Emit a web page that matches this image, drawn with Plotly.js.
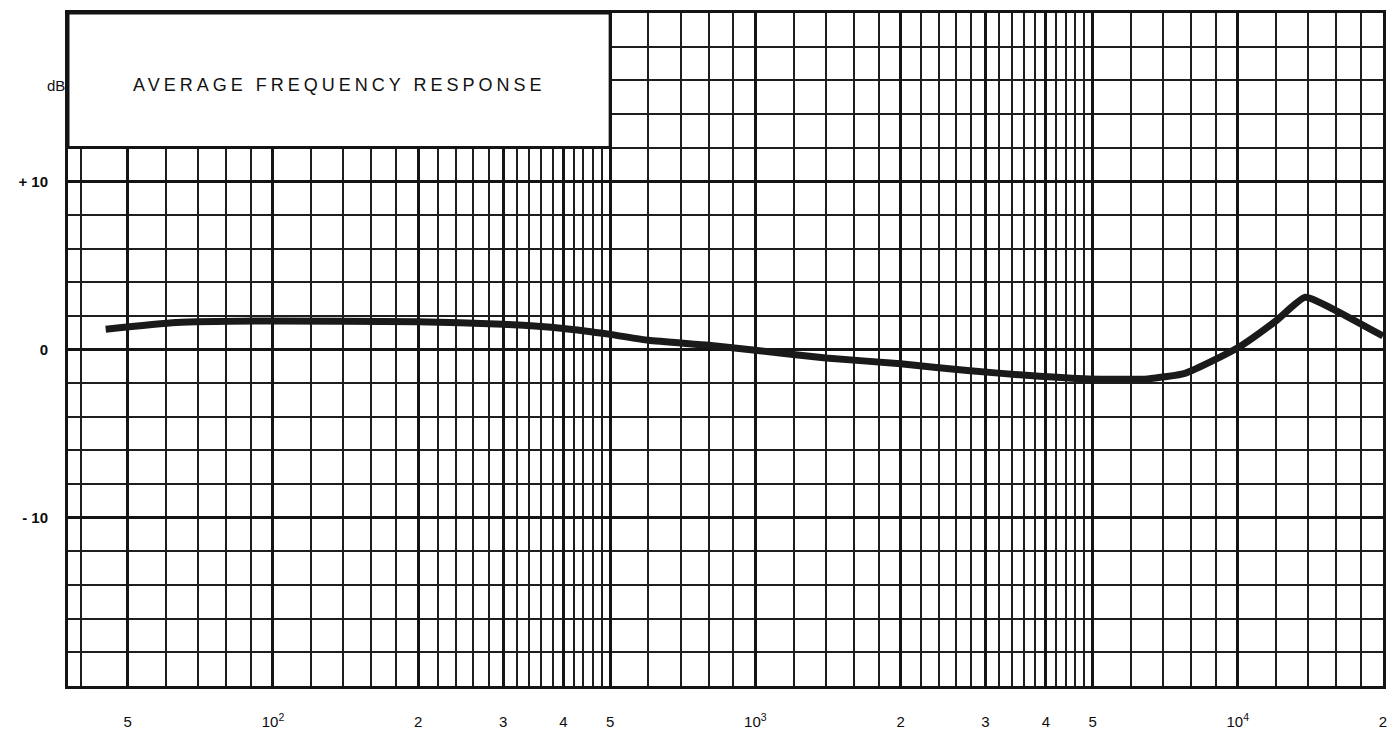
<!DOCTYPE html>
<html>
<head>
<meta charset="utf-8">
<script src="https://cdn.plot.ly/plotly-3.0.1.min.js"></script>
<style>
  html, body { margin: 0; padding: 0; background: #ffffff; }
  #chart { width: 1394px; height: 734px; }
</style>
</head>
<body>
<div id="chart"></div>
<script>
// ---- data (frequency in Hz, level in dB) ----
const freqHz = [45, 63, 100, 200, 300, 400, 500, 600, 800, 1000, 1400, 2000, 2750, 3700, 4900, 6500, 7800, 10000, 12000, 13800, 16000, 20000];
const levelDb = [1.2, 1.6, 1.7, 1.65, 1.5, 1.25, 0.9, 0.55, 0.25, -0.05, -0.5, -0.85, -1.25, -1.55, -1.75, -1.75, -1.4, 0.1, 1.7, 3.1, 2.3, 0.8];

// ---- axis tick labels ----
const xTickVals = [50, 100, 200, 300, 400, 500, 1000, 2000, 3000, 4000, 5000, 10000, 20000];
const xTickText = ['5', '10<sup>2</sup>', '2', '3', '4', '5', '10<sup>3</sup>', '2', '3', '4', '5', '10<sup>4</sup>', '2'];
const xMinorVals = [40, 60, 70, 80, 90,
  120, 140, 160, 180, 220, 240, 260, 280, 320, 340, 360, 380, 420, 440, 460, 480,
  600, 700, 800, 900,
  1200, 1400, 1600, 1800, 2200, 2400, 2600, 2800, 3200, 3400, 3600, 3800, 4200, 4400, 4600, 4800,
  6000, 7000, 8000, 9000, 12000, 14000, 16000, 18000];
const yTickVals = [-10, 0, 10];
const yTickText = ['- 10', '0', '+ 10'];
const yMinorVals = [-18, -16, -14, -12, -8, -6, -4, -2, 2, 4, 6, 8, 12, 14, 16, 18];

const titleText = 'AVERAGE FREQUENCY RESPONSE';
const unitText = 'dB';

const xRangeLog = [1.5751, Math.log10(20000)];
const yRange = [-20, 20];
const boxRightHz = 500;
const boxBottomDb = 12;

const ink = '#141414';

// layout helpers (positions of the title box in paper fractions)
const boxX1 = (Math.log10(boxRightHz) - xRangeLog[0]) / (xRangeLog[1] - xRangeLog[0]);
const boxY0 = (boxBottomDb - yRange[0]) / (yRange[1] - yRange[0]);

const trace = {
  type: 'scatter',
  mode: 'lines',
  x: freqHz,
  y: levelDb,
  line: { color: '#1a1a1a', width: 7, shape: 'spline', smoothing: 0.5 },
  hoverinfo: 'x+y',
  showlegend: false
};

const layout = {
  width: 1394,
  height: 734,
  margin: { l: 68, r: 11, t: 13, b: 48, pad: 0 },
  paper_bgcolor: '#ffffff',
  plot_bgcolor: '#ffffff',
  font: { family: 'Liberation Sans, Arial, sans-serif', color: ink },
  showlegend: false,
  xaxis: {
    type: 'log',
    range: xRangeLog,
    tickmode: 'array',
    tickvals: xTickVals,
    ticktext: xTickText,
    ticks: '',
    ticklabelstandoff: 20,
    tickfont: { size: 15, color: '#0d0d0d' },
    showgrid: true,
    gridcolor: ink,
    gridwidth: 3,
    minor: { tickmode: 'array', tickvals: xMinorVals, showgrid: true, gridcolor: '#1e1e1e', gridwidth: 2, ticks: '' },
    showline: true,
    linecolor: ink,
    linewidth: 3,
    mirror: true,
    zeroline: false,
    fixedrange: true
  },
  yaxis: {
    range: yRange,
    tickmode: 'array',
    tickvals: yTickVals,
    ticktext: yTickText,
    ticks: '',
    ticklabelstandoff: 14,
    tickfont: { size: 15, color: '#0d0d0d', weight: 'bold' },
    showgrid: true,
    gridcolor: ink,
    gridwidth: 3,
    minor: { tickmode: 'array', tickvals: yMinorVals, showgrid: true, gridcolor: '#1e1e1e', gridwidth: 2, ticks: '' },
    showline: true,
    linecolor: ink,
    linewidth: 3,
    mirror: true,
    zeroline: false,
    fixedrange: true
  },
  shapes: [
    {
      type: 'rect', layer: 'above',
      xref: 'paper', yref: 'paper',
      x0: 0, x1: boxX1,
      y0: boxY0, y1: 1,
      fillcolor: '#ffffff',
      line: { color: ink, width: 3 }
    }
  ],
  annotations: [
    {
      xref: 'paper', yref: 'y',
      x: boxX1 / 2,
      y: 15.7,
      text: '<span style="letter-spacing:4px">' + titleText + '</span>',
      showarrow: false,
      xanchor: 'center', yanchor: 'middle',
      font: { size: 18, color: '#111111', family: 'Liberation Sans, Arial, sans-serif' }
    },
    {
      xref: 'paper', yref: 'y',
      x: 0, y: 15.7,
      xshift: -1,
      text: unitText,
      showarrow: false,
      xanchor: 'right', yanchor: 'middle',
      font: { size: 15, color: '#111111' }
    }
  ]
};

Plotly.newPlot('chart', [trace], layout, { displayModeBar: false, staticPlot: true });
</script>
</body>
</html>
